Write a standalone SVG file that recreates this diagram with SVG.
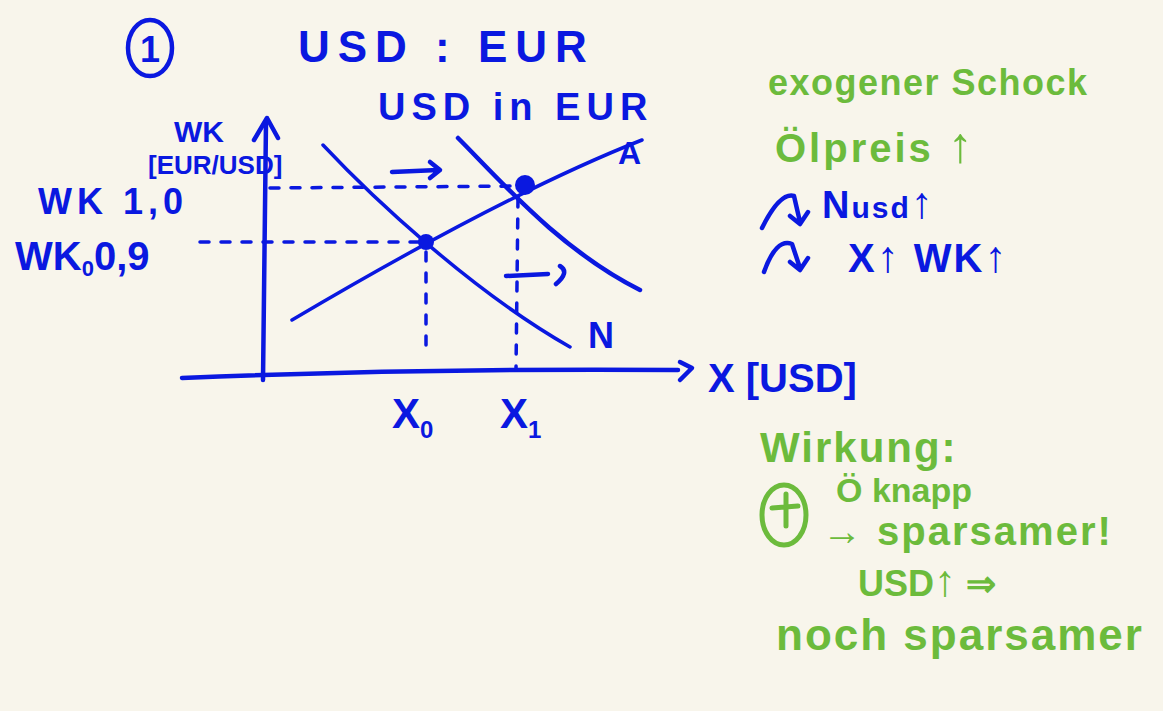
<svg xmlns="http://www.w3.org/2000/svg" width="1163" height="711" viewBox="0 0 1163 711">
<defs>
<style>
.b{fill:none;stroke:#0a18e0;stroke-width:4.5;stroke-linecap:round;stroke-linejoin:round}
.bt{stroke-width:3.5}
.d{stroke-dasharray:9 12}
.g{fill:none;stroke:#6cbb3c;stroke-width:5;stroke-linecap:round;stroke-linejoin:round}
.tb{font-family:"Liberation Sans",Arial,sans-serif;font-weight:bold;fill:#0a18e0}
.tg{font-family:"Liberation Sans",Arial,sans-serif;font-weight:bold;fill:#6cbb3c}
</style>
</defs>
<rect width="1163" height="711" fill="#f8f5eb"/>

<g id="title">
<ellipse cx="150" cy="48" rx="22" ry="28" class="b"/>
<text x="150" y="62" class="tb" font-size="36" text-anchor="middle">1</text>
<text x="298" y="62" class="tb" font-size="44" letter-spacing="8">USD : EUR</text>
<text x="378" y="120" class="tb" font-size="38" letter-spacing="6">USD in EUR</text>
</g>

<g id="axes">
<path d="M263 380 L266 122" class="b"/>
<path d="M254 140 L267 118 L278 138" class="b"/>
<path d="M182 378 Q430 368 678 370" class="b"/>
<path d="M680 362 L692 368 L680 380" class="b"/>
</g>

<g id="y-labels">
<text x="174" y="142" class="tb" font-size="30">WK</text>
<text x="148" y="174" class="tb" font-size="26">[EUR/USD]</text>
<text x="38" y="214" class="tb" font-size="36" letter-spacing="5">WK 1,0</text>
<text x="15" y="270" class="tb" font-size="40">WK<tspan font-size="22" dy="6">0</tspan><tspan dy="-6">0,9</tspan></text>
</g>

<g id="curves">
<path d="M323 145 C370 195 470 290 570 347" class="b bt"/>
<path d="M458 138 C500 180 560 250 640 290" class="b"/>
<path d="M292 320 C380 268 520 188 642 140" class="b bt"/>
<text x="618" y="164" class="tb" font-size="32">A</text>
<text x="588" y="348" class="tb" font-size="36">N</text>
</g>

<g id="connectors">
<path d="M270 188 L518 186" class="b bt d"/>
<path d="M200 242 L420 242" class="b bt d"/>
<path d="M426 252 L426 356" class="b bt d"/>
<path d="M518 198 L516 370" class="b bt d"/>
<path d="M392 172 L438 170 M430 162 L440 170 L430 178" class="b"/>
<path d="M506 276 L548 274 M560 266 Q570 272 556 284" class="b"/>
</g>

<g id="points">
<circle cx="426" cy="242" r="8" fill="#0a18e0"/>
<circle cx="525" cy="185" r="10" fill="#0a18e0"/>
</g>

<g id="x-labels">
<text x="708" y="392" class="tb" font-size="40">X [USD]</text>
<text x="392" y="428" class="tb" font-size="42">X<tspan font-size="24" dy="10">0</tspan></text>
<text x="500" y="428" class="tb" font-size="42">X<tspan font-size="24" dy="10">1</tspan></text>
</g>

<g id="notes-right">
<text x="768" y="95" class="tg" font-size="36" letter-spacing="1.5">exogener Schock</text>
<text x="775" y="162" class="tg" font-size="40" letter-spacing="3">Ölpreis <tspan font-size="50">↑</tspan></text>
<path d="M762 228 Q780 192 794 196 L800 222 M790 216 L800 224 L808 212" class="b"/>
<text x="822" y="218" class="tb" font-size="38" letter-spacing="2">N<tspan font-size="30">usd</tspan><tspan font-size="44">↑</tspan></text>
<path d="M764 272 Q776 238 792 244 L800 268 M790 262 L800 270 L808 258" class="b"/>
<text x="848" y="272" class="tb" font-size="40" letter-spacing="2">X<tspan font-size="44">↑</tspan>  WK<tspan font-size="44">↑</tspan></text>
</g>

<g id="notes-lower">
<text x="760" y="462" class="tg" font-size="42" letter-spacing="2">Wirkung:</text>
<ellipse cx="784" cy="515" rx="22" ry="30" class="g"/>
<path d="M772 508 L798 506 M786 494 L786 526" class="g"/>
<text x="836" y="502" class="tg" font-size="34">Ö knapp</text>
<text x="822" y="545" class="tg" font-size="40" letter-spacing="2">→ sparsamer!</text>
<text x="858" y="596" class="tg" font-size="36">USD<tspan font-size="44">↑</tspan> ⇒</text>
<text x="776" y="650" class="tg" font-size="44" letter-spacing="2">noch sparsamer</text>
</g>
</svg>
